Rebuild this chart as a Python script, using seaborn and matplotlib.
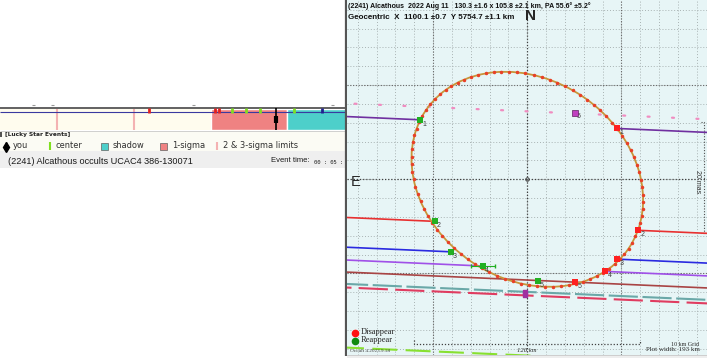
import numpy as np
import pandas as pd
import matplotlib
matplotlib.use("Agg")
import matplotlib.pyplot as plt
from matplotlib.patches import Ellipse, Rectangle
import seaborn as sns

# ---------------- data ----------------
title_line1 = "(2241) Alcathous  2022 Aug 11   130.3 \u00b11.6 x 105.8 \u00b12.1 km, PA 55.6\u00b0 \u00b15.2\u00b0"
title_line2 = "Geocentric  X  1100.1 \u00b10.7  Y 5754.7 \u00b11.1 km"
event_title = "(2241) Alcathous occults UCAC4 386-130071"

ell_major_km = 130.3
ell_minor_km = 105.8
ell_pa_deg = 55.6

chord_labels = ["1", "2", "3", "4", "5"]
chord_y0 = [29.1, -24.5, -40.3, -47.1, -53.5]          # km at x = 0
chord_reappear_x = [-56.8, -49.0, -40.7, -23.4, 5.8]
chord_disappear_x = [47.5, 58.9, 47.5, 41.3, 25.3]
chord_colors = ["#7030a0", "#e83030", "#2a2ae0", "#a050e8", "#a84444"]
chord_through = [False, False, False, False, True]
track_slope = -0.044

dashed_y0 = [-59.8, -61.7, -93.6]
dashed_colors = ["#6aa8a8", "#e03c60", "#88e030"]
miss_y0 = 36.1
satellite_x, satellite_y = 25.3, 35.4

# timeline (lucky star strip), positions along strip
tl_limits_23 = [56.7, 134.0]
tl_sigma1 = (211.0, 287.3)
tl_shadow = (287.3, 346.0)
tl_you = 276.3
tl_event_red = [149.0, 215.0, 219.0]
tl_event_green = [231.7, 245.7, 260.3, 294.0]
tl_event_blue = [322.0]
legend_labels = ["you", "center", "shadow", "1-sigma", "2 & 3-sigma limits"]

# ---------------- figure ----------------
sns.set_style("white")
plt.rcParams['font.family'] = ['Liberation Sans', 'DejaVu Sans']
W, H = 707, 358
fig = plt.figure(figsize=(W / 100, H / 100), dpi=100)
fig.patch.set_facecolor("white")
R = fig.canvas.get_renderer()

def fit(t, w, vertical=False):
    for _ in range(3):
        bb = t.get_window_extent(R)
        cur = bb.height if vertical else bb.width
        if cur > 0:
            t.set_fontsize(t.get_fontsize() * w / cur)
    return t

bg = fig.add_axes([0, 0, 1, 1])
bg.set_xlim(0, W); bg.set_ylim(H, 0); bg.axis("off")

# ---------- left: timeline strip ----------
bg.add_patch(Rectangle((0, 109), 346, 21, fc="#fffcee", ec="none"))
bg.add_patch(Rectangle((0, 130.5), 346, 20.5, fc="#fbfbf4", ec="none"))
bg.add_patch(Rectangle((0, 151), 346, 17, fc="#efefef", ec="none"))
bg.broken_barh([(tl_sigma1[0], tl_sigma1[1] - tl_sigma1[0])], (109, 21), fc="#ef8282")
bg.broken_barh([(tl_shadow[0], tl_shadow[1] - tl_shadow[0])], (109, 21), fc="#4dcfca")
bg.vlines(tl_limits_23, 109, 130, color="#f4b2b2", lw=1.5)
bg.hlines(108, 0, 346, color="#555555", lw=1.3)
bg.hlines(112, 0, 346, color="#3a3aa0", lw=0.8)
bg.hlines(130.5, 0, 346, color="#c8c8c8", lw=0.6)
bg.vlines(tl_event_red, 107.5, 112.5, color="#e02020", lw=2)
bg.vlines(tl_event_green, 107.5, 112.5, color="#80e020", lw=2)
bg.vlines(tl_event_blue, 107.5, 112.5, color="#202090", lw=2)
bg.vlines(tl_you, 107.5, 130, color="black", lw=1.2)
bg.vlines(tl_you, 115.5, 122.5, color="black", lw=3)
for xm in [33, 52.7, 193, 332]:
    bg.hlines(105, xm - 1.5, xm + 1.5, color="#999999", lw=0.8)

bg.vlines(1.3, 131.8, 136.5, color="#202020", lw=1.1)
fit(bg.text(5, 134.3, "[Lucky Star Events]", fontsize=5, fontweight="bold",
            family="DejaVu Sans", va="center", color="#202020"), 65)

ly = 146
t5 = fit(bg.text(223, ly, legend_labels[4], fontsize=6, family="DejaVu Sans",
                 va="center", color="#303030"), 74.7)
fs_leg = t5.get_fontsize()
for xx, lab in zip([12.5, 56, 113, 172], legend_labels[:4]):
    bg.text(xx, ly, lab, fontsize=fs_leg, family="DejaVu Sans", va="center", color="#303030")
bg.vlines(6, 142, 150, color="black", lw=1)
bg.plot([6], [146.5], marker="d", ms=5, color="black")
bg.vlines(50, 141.5, 150, color="#80e020", lw=1.5)
bg.add_patch(Rectangle((101, 142.5), 7, 7, fc="#4dcfca", ec="#606060", lw=0.5))
bg.add_patch(Rectangle((160, 142.5), 7, 7, fc="#ef8282", ec="#606060", lw=0.5))
bg.vlines(217, 141.5, 150, color="#f4b2b2", lw=1.5)

fit(bg.text(8.3, 161.7, event_title, fontsize=7, va="center", color="#1a1a1a"), 186)
fit(bg.text(270.7, 160, "Event time:", fontsize=6, va="center", color="#1a1a1a"), 38)
fit(bg.text(314.5, 162.5, "00 : 05 :", fontsize=6, family="DejaVu Sans Mono", va="center",
            color="#1a1a1a"), 29.5)

# left border of panel and bottom strip
bg.vlines(346, 0, 356, color="#555555", lw=1.6)
bg.add_patch(Rectangle((347, 355), 360, 3, fc="#eeeeee", ec="none"))
bg.hlines(355.2, 347, 707, color="#c8c8c8", lw=0.6)

# ---------- right: occultation plot ----------
PX = 1.883
cx_px, cy_px = 527.3, 179.3
pl, pt, pr, pb = 347, 0, 707, 355
ax = fig.add_axes([pl / W, 1 - pb / H, (pr - pl) / W, (pb - pt) / H])
ax.set_xlim((pl - cx_px) / PX, (pr - cx_px) / PX)
ax.set_ylim((cy_px - pb) / PX, (cy_px - pt) / PX)
ax.set_facecolor("#e7f5f6")
for s in ax.spines.values():
    s.set_visible(False)
ax.set_xticks(np.arange(-90, 100, 10))
ax.set_yticks(np.arange(-90, 100, 10))
ax.tick_params(length=0, labelbottom=False, labelleft=False)
ax.grid(True, color="#a9b3b3", ls=(0, (1, 2)), lw=0.7)
ax.set_axisbelow(True)
for v in [-50, 50]:
    ax.axvline(v, color="#6a6a6a", ls=(0, (1, 1.5)), lw=0.8, zorder=1)
    ax.axhline(v, color="#6a6a6a", ls=(0, (1, 1.5)), lw=0.8, zorder=1)
ax.axvline(0, color="#404040", ls=(0, (1, 1.5)), lw=0.9, zorder=1)
ax.axhline(0, color="#404040", ls=(0, (1, 1.5)), lw=0.9, zorder=1)
ax.plot([0], [0], marker="o", ms=2.5, mfc="none", mec="#404040", mew=0.7)

xe = np.array([-100.0, 100.0])

# miss / satellite path (pink dots)
sns.lineplot(x=xe, y=miss_y0 + track_slope * xe, ax=ax, color="#f08cc0", lw=1.6,
             linestyle=(4.0, (0.9, 10.1)), dash_capstyle="round")
ax.scatter([satellite_x], [satellite_y], marker="s", s=14, color="#c040c0",
           edgecolor="#602060", linewidth=0.5, zorder=6)
ax.text(satellite_x + 1.2, satellite_y - 2.6, "5", fontsize=5, color="#404040")

# dashed tracks
dash_styles = [(0, (14, 2.2)), (8, (14, 3.5)), (0, (12, 4))]
for y0, c, ds in zip(dashed_y0, dashed_colors, dash_styles):
    sns.lineplot(x=xe, y=y0 + track_slope * xe, ax=ax, color=c, lw=1.5, linestyle=ds)
for y0 in dashed_y0[:2]:
    ax.scatter([-1.2], [y0 - track_slope * 1.2], marker="s", s=5, color="#a030a0", zorder=6)

# ellipse
theta = np.deg2rad(90 + ell_pa_deg)
ax.add_patch(Ellipse((0, 0), ell_major_km, ell_minor_km, angle=90 + ell_pa_deg,
                     fill=False, ec="#c8963a", lw=1.3, zorder=4))
tt = np.linspace(0, 2 * np.pi, 90, endpoint=False)
exs = ell_major_km / 2 * np.cos(tt) * np.cos(theta) - ell_minor_km / 2 * np.sin(tt) * np.sin(theta)
eys = ell_major_km / 2 * np.cos(tt) * np.sin(theta) + ell_minor_km / 2 * np.sin(tt) * np.cos(theta)
ax.plot(exs, eys, ls="none", marker="o", ms=1.5, color="#e84028", zorder=5)

# chords
for lab, y0, rx, dx, c, thr in zip(chord_labels, chord_y0, chord_reappear_x,
                                   chord_disappear_x, chord_colors, chord_through):
    if thr:
        segs = [xe]
    else:
        segs = [np.array([-100.0, rx]), np.array([dx, 100.0])]
    for sx in segs:
        sns.lineplot(x=sx, y=y0 + track_slope * sx, ax=ax, color=c, lw=1.2, zorder=3)
    yr = y0 + track_slope * rx
    yd = y0 + track_slope * dx
    sns.scatterplot(x=[rx], y=[yr], ax=ax, marker="s", s=14, color="#22b022",
                    linewidth=0, zorder=6)
    sns.scatterplot(x=[dx], y=[yd], ax=ax, marker="s", s=14, color="#ff2020",
                    linewidth=0, zorder=6)
    ax.text(rx + 1.0, yr - 3.2, lab, fontsize=5, color="#404040", zorder=7)
    ax.text(dx + 1.5, yd - 3.2, lab, fontsize=5, color="#404040", zorder=7)
# error bar on chord 4 reappearance
ax.errorbar([chord_reappear_x[3]], [chord_y0[3] + track_slope * chord_reappear_x[3]],
            xerr=6.4, color="#22b022", lw=0.8, capsize=1.5, zorder=5)

# scale bar 120 km
ax.plot([-60, -60, 60, 60], [-85.1, -87.6, -87.6, -85.1], ls=(0, (1, 1.5)),
        color="#404040", lw=0.9)
# 20 mas bracket
ax.plot([92.0, 93.7, 93.7, 92.0], [30.4, 30.4, -28.5, -28.5], ls=(0, (1, 1.5)),
        color="#505050", lw=0.8)

# ---------- overlay text ----------
ov = fig.add_axes([0, 0, 1, 1], zorder=10)
ov.set_xlim(0, W); ov.set_ylim(H, 0); ov.axis("off")
fit(ov.text(348, 6, title_line1, fontsize=7, fontweight="bold", family="Liberation Sans",
            va="center", color="#101010"), 242)
fit(ov.text(348, 17.5, title_line2, fontsize=7, fontweight="bold", family="Liberation Sans",
            va="center", color="#101010"), 168)
ov.text(530, 16, "N", fontsize=11, fontweight="bold", ha="center", va="center",
        family="Liberation Sans")
ov.text(351, 182, "E", fontsize=10.5, ha="left", va="center", family="Liberation Sans")
fit(ov.text(697, 181.5, "20 mas", fontsize=5, rotation=270, ha="center", va="center",
            family="Liberation Sans", color="#303030"), 23, vertical=True)
ov.plot([355], [332.5], marker="o", ms=5.5, color="#ff1010", mec="none")
ov.plot([355], [340.5], marker="o", ms=5.5, color="#108a10", mec="none")
fit(ov.text(361, 332.5, "Disappear", fontsize=7, family="Liberation Serif",
            va="center"), 34)
fit(ov.text(361, 340.5, "Reappear", fontsize=7, family="Liberation Serif",
            va="center"), 32)
fit(ov.text(350, 351, "Occult 4.2023.9.18", fontsize=4, family="Liberation Serif",
            va="center", color="#404040"), 40)
fit(ov.text(527, 350, "120 km", fontsize=6, style="italic", family="Liberation Serif",
            ha="center", va="center"), 19.5)
fit(ov.text(699, 344, "10 km Grid", fontsize=5, family="Liberation Serif",
            ha="right", va="center"), 28)
fit(ov.text(700, 349.8, "Plot width: 193 km", fontsize=6, family="Liberation Serif",
            ha="right", va="center"), 54)

fig.savefig("out.png", dpi=100)
